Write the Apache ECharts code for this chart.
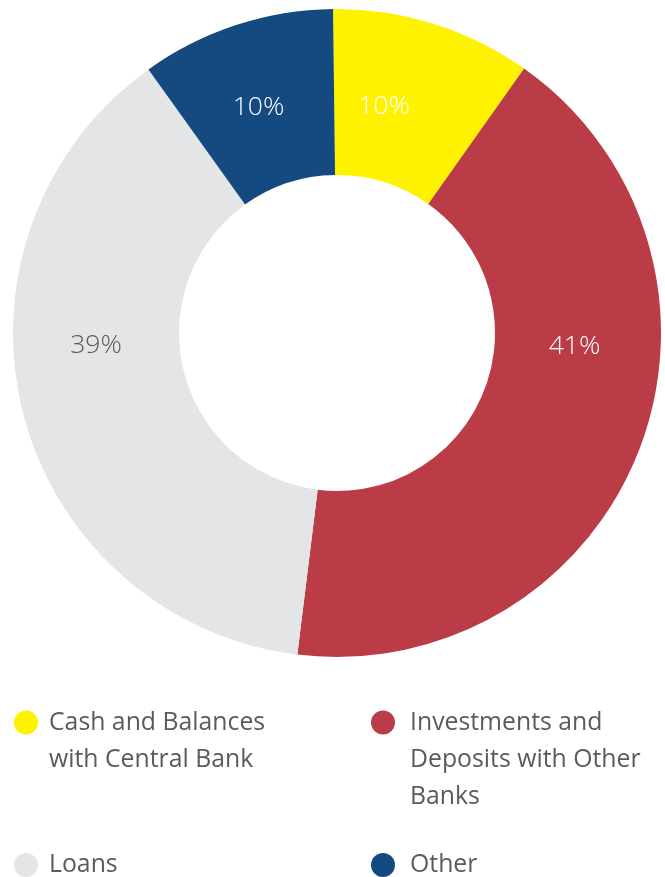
<!DOCTYPE html>
<html><head><meta charset="utf-8">
<script src="https://cdn.jsdelivr.net/npm/echarts@6/dist/echarts.min.js"></script>
<style>html,body{margin:0;padding:0;background:#fff}#c{width:665px;height:877px}</style>
</head><body><div id="c"></div>
<script>
const categories = ['Cash and Balances with Central Bank','Investments and Deposits with Other Banks','Loans','Other'];
const values = [10.0, 42.2, 38.2, 9.7];
const valueLabels = ['10%','41%','39%','10%'];
const legendLines = [['Cash and Balances','with Central Bank'],['Investments and','Deposits with Other','Banks'],['Loans'],['Other']];

const colors = ['#FFF200','#BA3C46','#E4E5E7','#154A80'];
const labelColors = ['#ffffff','#ffffff','#5a5a5a','#ffffff'];
const labelShift = [[-25.5,6.5],[10,-75],[-4.5,-48],[-2.5,6]];
const LH = 37;
const legendPos = [[14,722.5,6],[371,722.5,10],[14,865,6],[371,865,10]];

const chart = echarts.init(document.getElementById('c'), null, {renderer:'canvas'});

const legends = categories.map((name,i)=>{
  const n = legendLines[i].length;
  const H = (2*n-1)*LH;
  const pad = new Array(n-1).fill(' ');
  return {
    data:[name], selectedMode:false, padding:0,
    left: legendPos[i][0], top: legendPos[i][1]-H/2,
    icon:'circle', itemWidth:24, itemHeight:24,
    formatter: ()=>pad.concat(legendLines[i]).join('\n'),
    textStyle:{fontFamily:'Open Sans', fontSize:24.8, color:'#5b5b5b', lineHeight:LH,
      padding:[0,0,0,legendPos[i][2]]}
  };
});

chart.setOption({
  animation:false,
  color: colors,
  legend: legends,
  series:[{
    type:'pie',
    center:[337,333], radius:[158,324],
    startAngle:90.7, clockwise:true,
    avoidLabelOverlap:false,
    emphasis:{disabled:true},
    labelLine:{show:false},
    label:{show:true, position:'inside', fontFamily:'Open Sans', fontWeight:300, fontSize:26.5,
      formatter:(p)=>valueLabels[p.dataIndex]},
    labelLayout:(p)=>({dx:labelShift[p.dataIndex][0], dy:labelShift[p.dataIndex][1]}),
    data: categories.map((name,i)=>({name, value:values[i], label:{color:labelColors[i]}}))
  }]
});
</script></body></html>
